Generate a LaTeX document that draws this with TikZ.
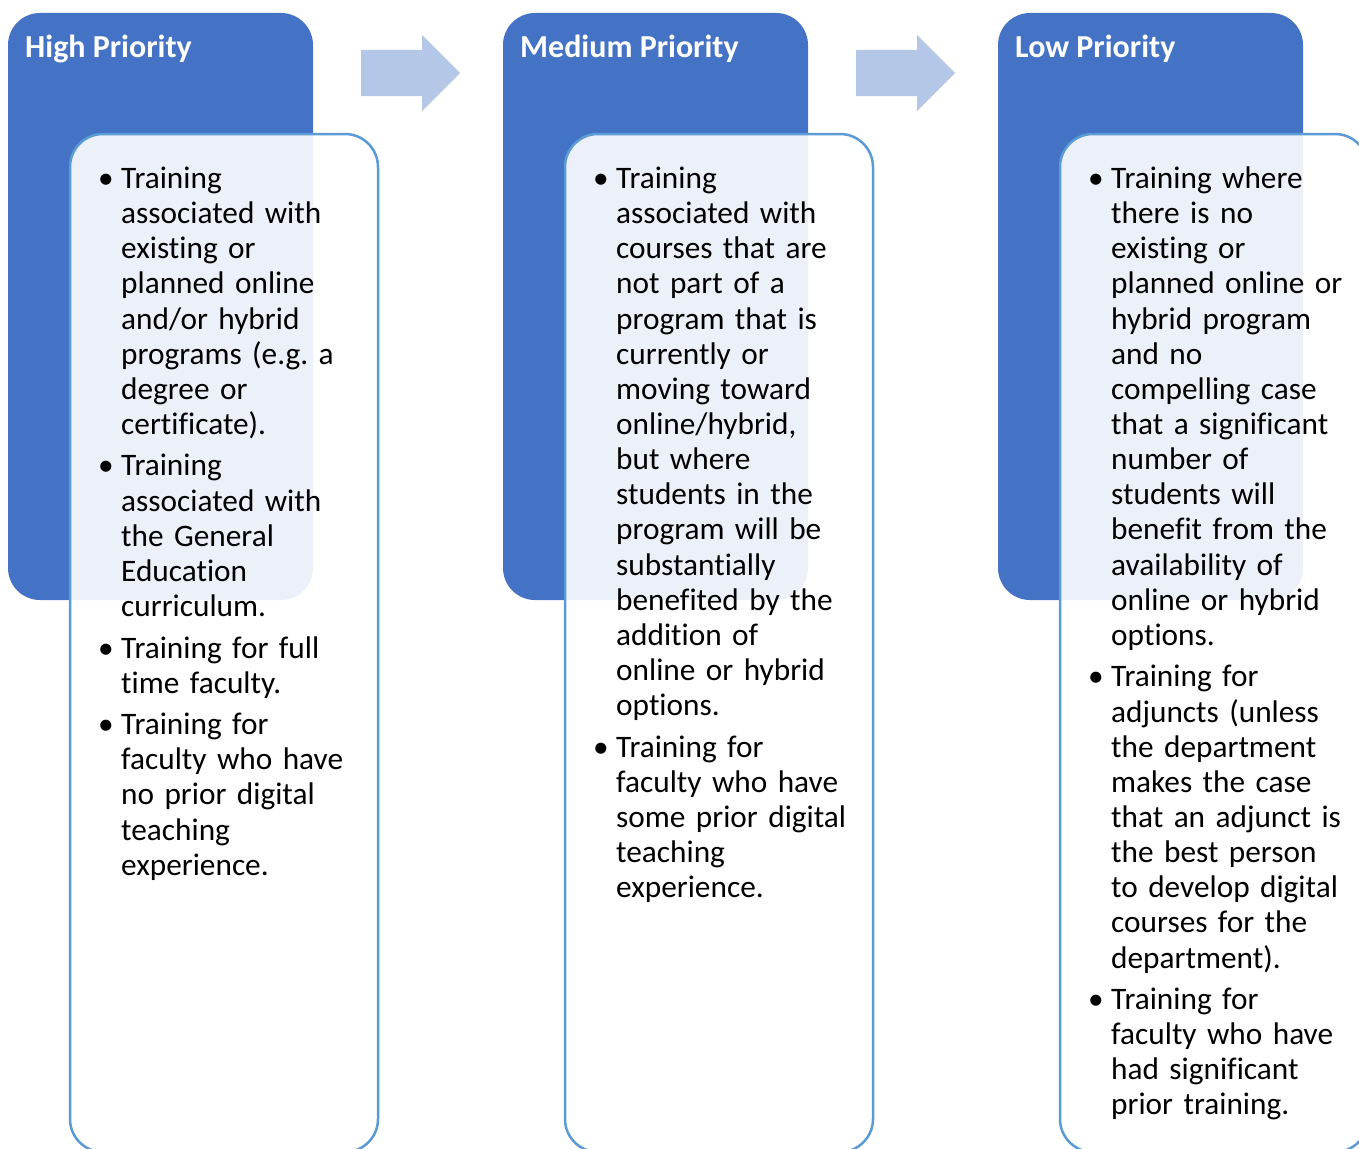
\documentclass[tikz,border=0pt]{standalone}
\usepackage{fontspec}
\setmainfont{Carlito}[Ligatures=NoCommon]
\usetikzlibrary{positioning}
\definecolor{hdrblue}{HTML}{4472C4}
\definecolor{edgeblue}{HTML}{5B9BD5}
\definecolor{arrblue}{HTML}{B4C7E7}
\newcommand{\bitem}[1]{\par\setlength{\parskip}{6.3pt}\hangindent=23pt\hangafter=1\noindent\makebox[23pt][l]{\textbullet}#1\par}
\newcommand{\nl}{\newline}

\begin{document}
\begin{tikzpicture}[x=1pt,y=-1pt,
	hdrbox/.style={fill=hdrblue,rounded corners=32pt,minimum width=305pt,minimum height=587pt,inner sep=0pt},
	bodybox/.style={draw=edgeblue,line width=2.5pt,fill=white,fill opacity=0.9,rounded corners=33pt,minimum width=308pt,minimum height=1018pt,inner sep=0pt},
	hdrtext/.style={anchor=base west,inner sep=0pt,text=white,font=\fontsize{32}{36}\selectfont\bfseries},
	itemtext/.style={anchor=base west,inner sep=0pt,text width=280pt,font=\fontsize{31.3}{35.15}\selectfont\raggedright}]
	\useasboundingbox (0,0) rectangle (1359,1148);
	\foreach \c/\n in {0/hi,495/med,990/lo}{
		\node [hdrbox] (\n) at (160.5+\c,306.5) {};
		\node [bodybox] (\n-body) at (224+\c,643) {};
	}
	\foreach \c in {0,495}{
		\fill [arrblue] (361+\c,50) -- (422+\c,50) -- (422+\c,35) -- (460+\c,73) -- (422+\c,111) -- (422+\c,96) -- (361+\c,96) -- cycle;
	}
	\node [hdrtext] (hi-title) at (25,57) {High Priority};
	\node [hdrtext] (med-title) at (520,57) {Medium Priority};
	\node [hdrtext] (lo-title) at (1015,57) {Low Priority};
	\node [itemtext] (hi-text) at (98,147) {%
		\bitem{Training\nl associated with\nl existing or\nl planned online\nl and/or hybrid\nl programs (e.g.\ a\nl degree or\nl certificate).}
		\bitem{Training\nl associated with\nl the General\nl Education\nl curriculum.}
		\bitem{Training for full\nl time faculty.}
		\bitem{Training for\nl faculty who have\nl no prior digital\nl teaching\nl experience.}};
	\node [itemtext] (med-text) at (593,147) {%
		\bitem{Training\nl associated with\nl courses that are\nl not part of a\nl program that is\nl currently or\nl moving toward\nl online/hybrid,\nl but where\nl students in the\nl program will be\nl substantially\nl benefited by the\nl addition of\nl online or hybrid\nl options.}
		\bitem{Training for\nl faculty who have\nl some prior digital\nl teaching\nl experience.}};
	\node [itemtext] (lo-text) at (1088,147) {%
		\bitem{Training where\nl there is no\nl existing or\nl planned online or\nl hybrid program\nl and no\nl compelling case\nl that a significant\nl number of\nl students will\nl benefit from the\nl availability of\nl online or hybrid\nl options.}
		\bitem{Training for\nl adjuncts (unless\nl the department\nl makes the case\nl that an adjunct is\nl the best person\nl to develop digital\nl courses for the\nl department).}
		\bitem{Training for\nl faculty who have\nl had significant\nl prior training.}};
\end{tikzpicture}
\end{document}
